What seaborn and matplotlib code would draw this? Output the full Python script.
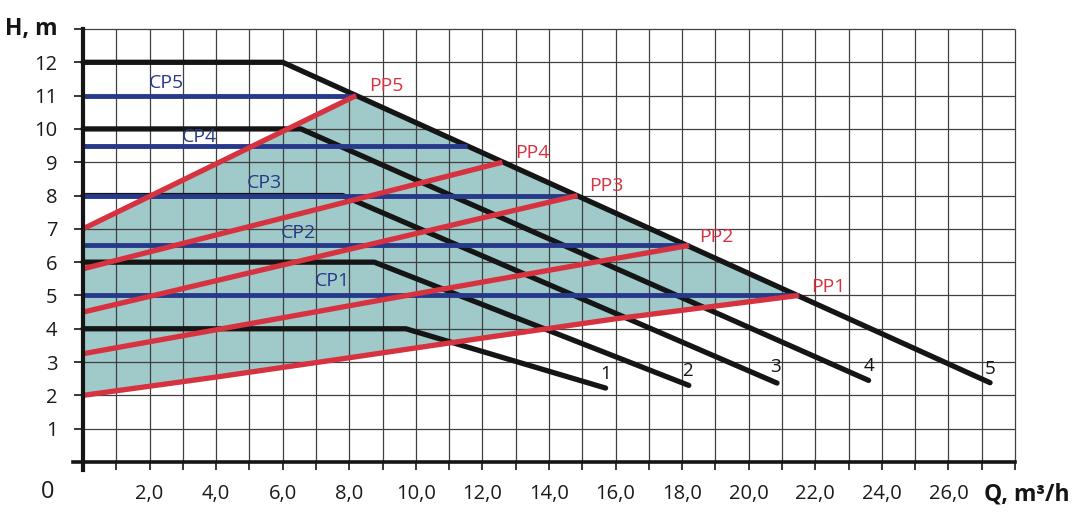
import matplotlib
matplotlib.use("Agg")
import matplotlib.pyplot as plt
import seaborn as sns
import pandas as pd

# ---------------- data ----------------
# pump curves (speed 1..5): Q (m3/h), H (m)
curve_names = ["1", "2", "3", "4", "5"]
curve_q = [
    [0, 9.7, 15.7],
    [0, 8.75, 18.2],
    [0, 7.8, 20.85],
    [0, 6.55, 23.6],
    [0, 6.0, 27.25],
]
curve_h = [
    [4, 4, 2.22],
    [6, 6, 2.3],
    [8, 8, 2.37],
    [10, 10, 2.45],
    [12, 12, 2.38],
]

# constant pressure lines CP1..CP5
cp_names = ["CP1", "CP2", "CP3", "CP4", "CP5"]
cp_h = [5.0, 6.5, 8.0, 9.5, 11.0]
cp_qmax = [21.5, 18.2, 14.85, 11.55, 8.2]

# proportional pressure lines PP1..PP5
pp_names = ["PP1", "PP2", "PP3", "PP4", "PP5"]
pp_q = [
    [0, 4, 8, 12, 16, 21.5],
    [0, 9, 18.2],
    [0, 14.85],
    [0, 12.6],
    [0, 8.2],
]
pp_h = [
    [2.0, 2.55, 3.13, 3.72, 4.3, 5.0],
    [3.25, 4.87, 6.5],
    [4.5, 8.0],
    [5.8, 9.0],
    [7.0, 11.0],
]

x_ticks = list(range(1, 29))
x_labels = [f"{v},0" if (v % 2 == 0 and v <= 26) else "" for v in x_ticks]
y_ticks = list(range(1, 14))
y_labels = [str(v) if v <= 12 else "" for v in y_ticks]

# ---------------- style ----------------
sns.set_theme(style="white")
plt.rcParams["font.family"] = ["Open Sans", "DejaVu Sans"]

BLACK = "#151515"
RED = "#d6323f"
BLUE = "#27398a"
FILL = "#a0c9c9"
GRID = "#404040"

fig = plt.figure(figsize=(10.8, 5.22), dpi=100)
ax = fig.add_axes([0.06606, 0.09579, 0.87532, 0.85186])
ax.set_xlim(-0.35, 28.05)
ax.set_ylim(-0.3, 13.05)
ax.set_facecolor("white")

# shaded operating area: PP5 up, along curve 5, PP1 back
poly_q = pp_q[4] + pp_q[0][::-1]
poly_h = pp_h[4] + pp_h[0][::-1]
ax.fill(poly_q, poly_h, color=FILL, zorder=1, lw=0)

# grid
ax.vlines(x_ticks, 0, 13, color=GRID, lw=0.9, zorder=2)
ax.hlines(y_ticks, 0, 28, color=GRID, lw=0.9, zorder=2)

# pump curves
for name, q, h in zip(curve_names, curve_q, curve_h):
    sns.lineplot(x=q, y=h, ax=ax, color=BLACK, linewidth=3.8, estimator=None,
                 zorder=3, legend=False, solid_capstyle="round",
                 solid_joinstyle="round")

# CP lines
for name, h, qm in zip(cp_names, cp_h, cp_qmax):
    sns.lineplot(x=[0, qm], y=[h, h], ax=ax, color=BLUE, linewidth=3.5,
                 estimator=None, zorder=4, legend=False, solid_capstyle="butt")

# PP lines
for name, q, h in zip(pp_names, pp_q, pp_h):
    sns.lineplot(x=q, y=h, ax=ax, color=RED, linewidth=3.8, estimator=None,
                 zorder=5, legend=False, solid_capstyle="butt")

# labels
lab_fs = 14
cp_pos = [(7.49, 5.42), (6.47, 6.87), (5.45, 8.37), (3.5, 9.76), (2.5, 11.37)]
for name, (x, y) in zip(cp_names, cp_pos):
    ax.text(x, y, name, color=BLUE, fontsize=lab_fs, ha="center", va="center", zorder=6)
pp_pos = [(22.4, 5.26), (19.04, 6.77), (15.72, 8.28), (13.5, 9.28), (9.1, 11.29)]
for name, (x, y) in zip(pp_names, pp_pos):
    ax.text(x, y, name, color=RED, fontsize=lab_fs, ha="center", va="center", zorder=6)
num_pos = [(15.7, 2.63), (18.17, 2.72), (20.8, 2.84), (23.6, 2.88), (27.25, 2.78)]
for name, (x, y) in zip(curve_names, num_pos):
    ax.text(x, y, name, color=BLACK, fontsize=13.5, ha="center", va="center", zorder=6)

# axes / ticks
for s in ["top", "right"]:
    ax.spines[s].set_visible(False)
ax.spines["left"].set_position(("data", 0))
ax.spines["bottom"].set_position(("data", 0))
ax.spines["left"].set_bounds(-0.25, 13)
ax.spines["bottom"].set_bounds(-0.3, 28)
ax.spines["left"].set_linewidth(3.0)
ax.spines["bottom"].set_linewidth(2.6)
ax.spines["left"].set_color(BLACK)
ax.spines["bottom"].set_color(BLACK)
ax.spines["left"].set_zorder(7)
ax.spines["bottom"].set_zorder(7)

ax.set_xticks(x_ticks)
ax.set_xticklabels(x_labels)
ax.set_yticks(y_ticks)
ax.set_yticklabels(y_labels)
ax.tick_params(axis="x", direction="out", length=6, width=1.2, color=BLACK,
               pad=10, labelsize=14.5, labelcolor="#1a1a1a", bottom=True)
ax.tick_params(axis="y", direction="out", length=6.5, width=1.2, color=BLACK,
               pad=12, labelsize=14.5, labelcolor="#1a1a1a", left=True)
ax.set_xlabel("")
ax.set_ylabel("")

ax.text(-1.56, 13.0, "H, m", fontsize=16.5, fontweight="bold", ha="center",
        va="center", color=BLACK, clip_on=False)
ax.text(-1.05, -0.9, "0", fontsize=17, ha="center", va="center",
        color="#1a1a1a", clip_on=False)
ax.text(28.35, -0.98, "Q, m³/h", fontsize=16.5, fontweight="bold", ha="center",
        va="center", color=BLACK, clip_on=False)

fig.savefig("out.png", dpi=100)
